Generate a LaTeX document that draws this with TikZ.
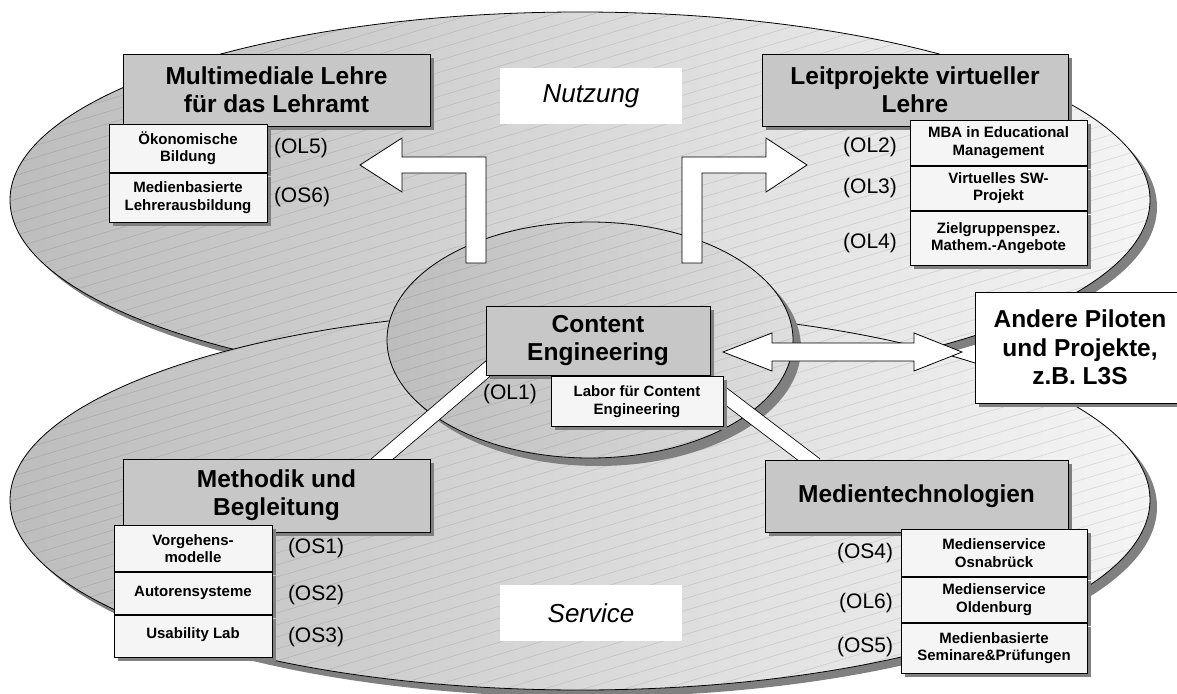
\documentclass[tikz,border=0pt]{standalone}
\usepackage{fontspec}
\setmainfont{Liberation Sans}
\usetikzlibrary{shadows,calc}
\pgfdeclarelayer{bg}
\pgfdeclarelayer{mid}
\pgfsetlayers{bg,mid,main}
\begin{document}
\begin{tikzpicture}[x=1pt,y=-1pt,
  outl/.style={draw=black, line width=0.8pt},
  shad/.style={drop shadow={shadow xshift=4pt, shadow yshift=-4pt, fill=black!50, opacity=1}},
  titlebox/.style={outl, fill=black!22, shad, inner sep=0pt, align=center, font=\fontsize{24.5}{28}\selectfont\bfseries},
  cellbox/.style={outl, fill=black!4, shad, inner sep=0pt, align=center, anchor=north, font=\fontsize{15}{17.5}\selectfont\bfseries},
  lbl/.style={inner sep=0pt, font=\fontsize{21}{24}\selectfont},
  areabox/.style={fill=white, inner sep=0pt, minimum width=182pt, minimum height=56pt, font=\fontsize{26}{30}\selectfont\itshape},
  hatch/.style={line width=0.5pt, black, opacity=0.13},
  bar/.style={draw=black, line width=0.8pt, double=white, double distance=13.5pt},
  blockarrow/.style={outl, fill=white, line join=miter}
]
\useasboundingbox (0,0) rectangle (1177,693);

% ---------- background ellipses ----------
\begin{pgfonlayer}{bg}
  % top ellipse (Nutzung)
  \fill[black!50] (587,207) ellipse [x radius=570pt, y radius=188pt];
  \shade[left color=black!26, right color=black!4] (580,200) ellipse [x radius=570pt, y radius=188pt];
  \begin{scope}
    \clip (580,200) ellipse [x radius=570pt, y radius=188pt];
    \foreach \i in {0,...,66} \draw[hatch] (0,\i*12) -- (1177,\i*12-353);
  \end{scope}
  \draw[outl] (580,200) ellipse [x radius=570pt, y radius=188pt];
  % bottom ellipse (Service)
  \fill[black!50] (587,507) ellipse [x radius=570pt, y radius=190pt];
  \shade[left color=black!26, right color=black!4] (580,500) ellipse [x radius=570pt, y radius=190pt];
  \begin{scope}
    \clip (580,500) ellipse [x radius=570pt, y radius=190pt];
    \foreach \i in {20,...,92} \draw[hatch] (0,\i*12) -- (1177,\i*12-353);
  \end{scope}
  \draw[outl] (580,500) ellipse [x radius=570pt, y radius=190pt];
  % centre ellipse
  \fill[black!50] (598,348) ellipse [x radius=203pt, y radius=118pt];
  \shade[left color=black!26, right color=black!13] (590,340) ellipse [x radius=203pt, y radius=118pt];
  \begin{scope}
    \clip (590,340) ellipse [x radius=203pt, y radius=118pt];
    \foreach \i in {10,...,70} \draw[hatch] (0,\i*12) -- (1177,\i*12-353);
  \end{scope}
  \draw[outl] (590,340) ellipse [x radius=203pt, y radius=118pt];
\end{pgfonlayer}

% ---------- area labels ----------
\node[areabox] (nutz) at (591,96) {Nutzung};
\node[areabox] (serv) at (591,613) {Service};

% ---------- main boxes ----------
\node[titlebox, minimum width=307pt, minimum height=72pt] (ml) at (276.5,90) {Multimediale Lehre\\für das Lehramt};
\node[cellbox, minimum width=158pt, minimum height=48pt] (ml1) at (188,124) {Ökonomische\\Bildung};
\node[cellbox, minimum width=158pt, minimum height=49pt] (ml2) at (ml1.south) {Medienbasierte\\Lehrerausbildung};
\node[lbl] (lol5) at (301,148) {(OL5)};
\node[lbl] (los6) at (302,197) {(OS6)};

\node[titlebox, minimum width=306pt, minimum height=72pt] (lv) at (915,90) {Leitprojekte virtueller\\Lehre};
\node[cellbox, minimum width=177pt, minimum height=45pt] (lv1) at (998.5,120) {MBA in Educational\\Management};
\node[cellbox, minimum width=177pt, minimum height=44pt] (lv2) at (lv1.south) {Virtuelles SW-\\Projekt};
\node[cellbox, minimum width=177pt, minimum height=54pt] (lv3) at (lv2.south) {Zielgruppenspez.\\Mathem.-Angebote};
\node[lbl] (lol2) at (870,147) {(OL2)};
\node[lbl] (lol3) at (870,188) {(OL3)};
\node[lbl] (lol4) at (870,243) {(OL4)};

\node[titlebox, minimum width=224pt, minimum height=69pt] (ce) at (598,340.5) {Content\\Engineering};
\node[cellbox, minimum width=172pt, minimum height=50pt] (lab) at (637,376) {Labor für Content\\Engineering};
\node[lbl] (lol1) at (510,394) {(OL1)};

\node[titlebox, fill=white, minimum width=210pt, minimum height=111pt, font=\fontsize{24.5}{28.5}\selectfont\bfseries] (ap) at (1080,347.5) {Andere Piloten\\und Projekte,\\z.B. L3S};

\node[titlebox, minimum width=307pt, minimum height=73pt] (mb) at (276.5,495.5) {Methodik und\\Begleitung};
\node[cellbox, minimum width=158pt, minimum height=46pt] (mb1) at (193,525) {Vorgehens-\\modelle};
\node[cellbox, minimum width=158pt, minimum height=42pt] (mb2) at (mb1.south) {\raisebox{4.5pt}{Autorensysteme}};
\node[cellbox, minimum width=158pt, minimum height=42pt] (mb3) at (mb2.south) {\raisebox{5.5pt}{Usability Lab}};
\node[lbl] (los1) at (316,548) {(OS1)};
\node[lbl] (los2) at (316,595) {(OS2)};
\node[lbl] (los3) at (316,637) {(OS3)};

\node[titlebox, minimum width=303pt, minimum height=72pt] (mt) at (916.5,496) {Medientechnologien};
\node[cellbox, minimum width=186pt, minimum height=47pt] (mt1) at (994,529) {Medienservice\\Osnabrück};
\node[cellbox, minimum width=186pt, minimum height=45pt] (mt2) at (mt1.south) {Medienservice\\Oldenburg};
\node[cellbox, minimum width=186pt, minimum height=50pt] (mt3) at (mt2.south) {Medienbasierte\\Seminare\&Prüfungen};
\node[lbl] (los4) at (865,553) {(OS4)};
\node[lbl] (lol6) at (866,603) {(OL6)};
\node[lbl] (los5) at (865,647) {(OS5)};

% ---------- connectors (under the boxes) ----------
\begin{pgfonlayer}{mid}
  \draw[bar] ($(ce.south west)+(12,-15)$) -- ($(mb.north east)+(-56,7)$);
  \draw[bar] ($(lab.east)+(-8,-13)$) -- ($(mt.north west)+(51,5)$);
  % bent arrow to the left
  \draw[blockarrow] (486,263) -- (486,157) -- (402,157) -- (402,138) -- (360,165)
        -- (402,192) -- (402,173) -- (466,173) -- (466,263) -- cycle;
  % bent arrow to the right
  \draw[blockarrow] (682,263) -- (682,157) -- (766,157) -- (766,138) -- (807,165)
        -- (766,192) -- (766,173) -- (702,173) -- (702,263) -- cycle;
  % double arrow
  \coordinate (dl) at (723,352);
  \coordinate (dr) at (962,352);
  \draw[blockarrow] (dl) -- ++(49,-19) -- ++(0,10) -- (914,343) -- (914,333) -- (dr)
        -- (914,371) -- (914,361) -- (772,361) -- (772,371) -- cycle;
\end{pgfonlayer}
\end{tikzpicture}
\end{document}
